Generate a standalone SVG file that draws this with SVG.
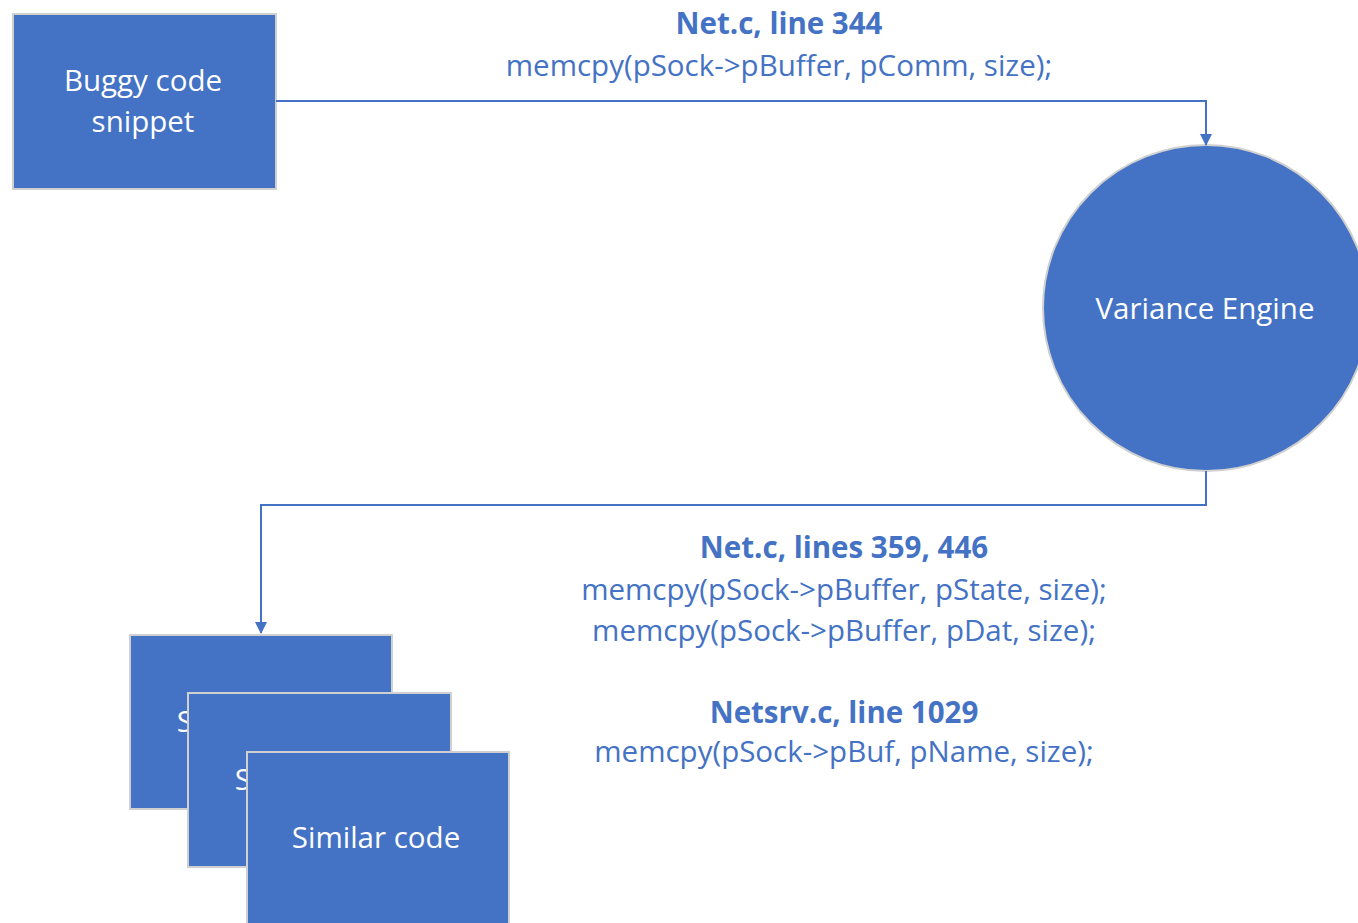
<svg xmlns="http://www.w3.org/2000/svg" width="1358" height="923" viewBox="0 0 1358 923">
<style>
.node{fill:#4472C4;stroke:#D0D0D0;stroke-width:2}
.nt{fill:#FFFFFF;font-family:"Open Sans","Liberation Sans",sans-serif;font-size:29.5px;text-anchor:middle}
.lbl{fill:#4472C4;font-family:"Open Sans","Liberation Sans",sans-serif;font-size:29.5px;text-anchor:middle}
.b{font-weight:bold}
.conn{fill:none;stroke:#4472C4;stroke-width:2}
</style>
<defs>
<marker id="arr" markerWidth="12" markerHeight="12" refX="11" refY="6" orient="auto" markerUnits="userSpaceOnUse">
<path d="M0,0 L12,6 L0,12 Z" fill="#4472C4"/>
</marker>
</defs>
<rect width="1358" height="923" fill="#FFFFFF"/>
<g id="buggy">
<rect class="node" x="13" y="14" width="263" height="175"/>
<text class="nt" x="143" y="91">Buggy code</text>
<text class="nt" x="143" y="132">snippet</text>
</g>
<g id="engine">
<circle class="node" cx="1206" cy="308" r="163"/>
<text class="nt" x="1205" y="319">Variance Engine</text>
</g>
<g id="similar1">
<rect class="node" x="130" y="635" width="262" height="174"/>
<text class="nt" x="261" y="732">Similar code</text>
</g>
<g id="similar2">
<rect class="node" x="188" y="693" width="263" height="174"/>
<text class="nt" x="319" y="790">Similar code</text>
</g>
<g id="similar3">
<rect class="node" x="247" y="752" width="262" height="176"/>
<text class="nt" x="376" y="848">Similar code</text>
</g>
<g id="connectors">
<path class="conn" d="M276,101 H1206 V145" marker-end="url(#arr)"/>
<path class="conn" d="M1206,471 V505 H261 V633" marker-end="url(#arr)"/>
</g>
<g id="labels">
<text class="lbl b" x="779" y="34">Net.c, line 344</text>
<text class="lbl" x="779" y="76">memcpy(pSock-&gt;pBuffer, pComm, size);</text>
<text class="lbl b" x="844" y="558">Net.c, lines 359, 446</text>
<text class="lbl" x="844" y="600">memcpy(pSock-&gt;pBuffer, pState, size);</text>
<text class="lbl" x="844" y="641">memcpy(pSock-&gt;pBuffer, pDat, size);</text>
<text class="lbl b" x="844" y="723">Netsrv.c, line 1029</text>
<text class="lbl" x="844" y="762">memcpy(pSock-&gt;pBuf, pName, size);</text>
</g>
</svg>
